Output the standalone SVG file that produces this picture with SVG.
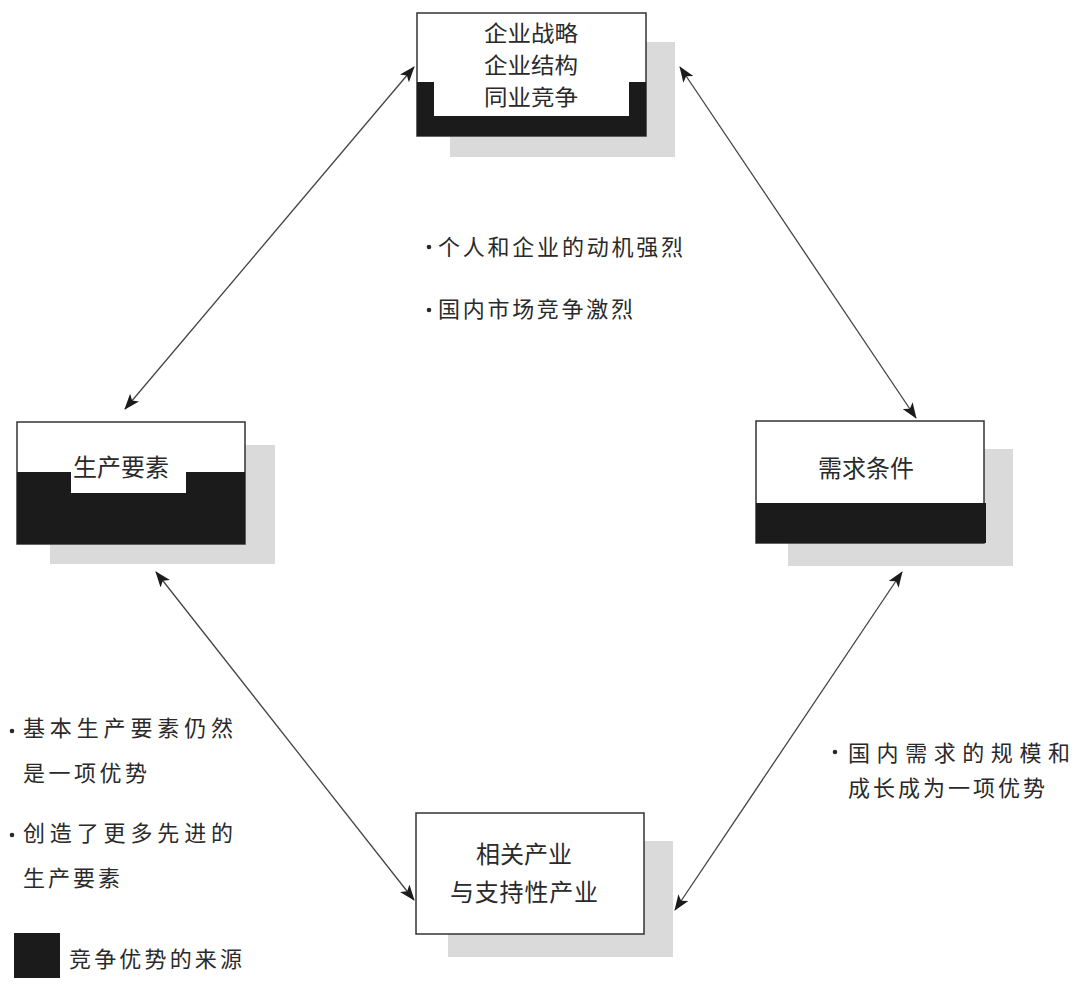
<svg xmlns="http://www.w3.org/2000/svg" width="1080" height="989" viewBox="0 0 1080 989">
<style>
  .shadow { fill: #dadada; }
  .box { fill: #ffffff; stroke: #333333; stroke-width: 1.5; }
  .solid { fill: #1b1b1b; }
  .t { font-family: "Noto Sans CJK SC", "Noto Sans", sans-serif; fill: #2a2a2a; }
  .node { font-size: 24px; }
  .tight { font-size: 22px; }
  .note { font-size: 22px; }
  .conn { stroke: #444444; stroke-width: 1.3; fill: none; marker-start: url(#arr); marker-end: url(#arr); }
  .dot { fill: #2a2a2a; }
</style>
<defs>
  <marker id="arr" viewBox="0 0 16 12" refX="15" refY="6" markerWidth="16" markerHeight="12" markerUnits="userSpaceOnUse" orient="auto-start-reverse">
    <path d="M0,0 L16,6 L0,12 L4,6 Z" fill="#1b1b1b"/>
  </marker>
</defs>
<rect width="1080" height="989" fill="#ffffff"/>

<g id="connectors">
  <line class="conn" x1="125" y1="409" x2="414" y2="67"/>
  <line class="conn" x1="680" y1="67" x2="916" y2="418"/>
  <line class="conn" x1="156" y1="572" x2="414" y2="900"/>
  <line class="conn" x1="902" y1="572" x2="675" y2="910"/>
</g>

<g id="node-strategy">
  <rect class="shadow" x="450" y="42" width="225" height="115"/>
  <rect class="box" x="417" y="13" width="229" height="123"/>
  <path class="solid" d="M417,82 H434 V116 H629 V82 H646 V136 H417 Z"/>
  <text class="t tight" x="531" y="41" text-anchor="middle" textLength="94" lengthAdjust="spacingAndGlyphs">企业战略</text>
  <text class="t tight" x="531" y="73" text-anchor="middle" textLength="94" lengthAdjust="spacingAndGlyphs">企业结构</text>
  <text class="t tight" x="531" y="105" text-anchor="middle" textLength="94" lengthAdjust="spacingAndGlyphs">同业竞争</text>
</g>

<g id="node-factors">
  <rect class="shadow" x="50" y="445" width="225" height="119"/>
  <rect class="box" x="17" y="422" width="228" height="122"/>
  <path class="solid" d="M17,472 H71 V493 H186 V472 H245 V544 H17 Z"/>
  <text class="t node" x="121" y="476" text-anchor="middle">生产要素</text>
</g>

<g id="node-demand">
  <rect class="shadow" x="788" y="449" width="225" height="117"/>
  <rect class="box" x="756" y="421" width="228" height="122"/>
  <rect class="solid" x="756" y="503" width="230" height="40"/>
  <text class="t node" x="866" y="477" text-anchor="middle">需求条件</text>
</g>

<g id="node-related">
  <rect class="shadow" x="448" y="841" width="225" height="116"/>
  <rect class="box" x="416" y="813" width="228" height="121"/>
  <text class="t node" x="524" y="863" text-anchor="middle">相关产业</text>
  <text class="t node" x="524" y="901" text-anchor="middle" textLength="148" lengthAdjust="spacing">与支持性产业</text>
</g>

<g id="note-strategy">
  <circle class="dot" cx="429" cy="247" r="2.3"/>
  <text class="t note" x="438" y="255" textLength="245" lengthAdjust="spacing">个人和企业的动机强烈</text>
  <circle class="dot" cx="429" cy="310" r="2.3"/>
  <text class="t note" x="438" y="317" textLength="195" lengthAdjust="spacing">国内市场竞争激烈</text>
</g>

<g id="note-factors">
  <circle class="dot" cx="12" cy="731" r="2.3"/>
  <text class="t note" x="23" y="736" textLength="210" lengthAdjust="spacing">基本生产要素仍然</text>
  <text class="t note" x="23" y="781" textLength="124" lengthAdjust="spacing">是一项优势</text>
  <circle class="dot" cx="12" cy="835" r="2.3"/>
  <text class="t note" x="23" y="841" textLength="210" lengthAdjust="spacing">创造了更多先进的</text>
  <text class="t note" x="23" y="886" textLength="97" lengthAdjust="spacing">生产要素</text>
</g>

<g id="note-demand">
  <circle class="dot" cx="835" cy="752" r="2.3"/>
  <text class="t note" x="848" y="761" textLength="222" lengthAdjust="spacing">国内需求的规模和</text>
  <text class="t note" x="848" y="796" textLength="197" lengthAdjust="spacing">成长成为一项优势</text>
</g>

<g id="legend">
  <rect class="solid" x="14" y="933" width="46" height="45"/>
  <text class="t note" x="69" y="967" textLength="173" lengthAdjust="spacing">竞争优势的来源</text>
</g>
</svg>
